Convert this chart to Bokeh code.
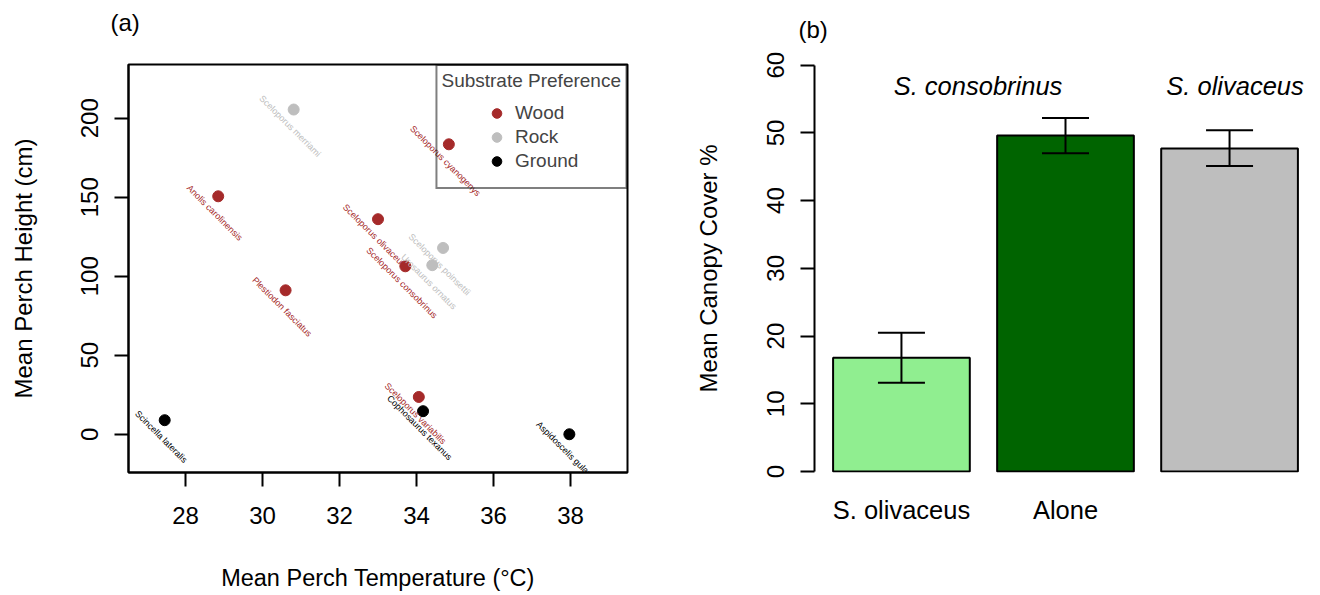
import math
from bokeh.plotting import figure
from bokeh.models import (ColumnDataSource, Range1d, FixedTicker, Legend, LegendItem,
                          Whisker, TeeHead)
from bokeh.layouts import row
from bokeh.embed import file_html
from bokeh.resources import INLINE
from bokeh.core.properties import value

FONT = "Liberation Sans"

# ---------------- data: panel (a) ----------------
species = ["Sceloporus merriami", "Sceloporus cyanogenys", "Anolis carolinensis",
           "Sceloporus olivaceus", "Sceloporus poinsettii", "Urosaurus ornatus",
           "Sceloporus consobrinus", "Plestiodon fasciatus", "Sceloporus variabilis",
           "Cophosaurus texanus", "Scincella lateralis", "Aspidoscelis gularis"]
perch_temp = [30.81, 34.84, 28.85, 33.00, 34.69, 34.41, 33.71, 30.60, 34.06, 34.17, 27.46, 37.97]
perch_height = [205.5, 183.5, 150.6, 136.1, 117.9, 107.0, 106.3, 91.1, 23.6, 14.6, 8.9, 0.0]
substrate = ["Rock", "Wood", "Wood", "Wood", "Rock", "Rock", "Wood", "Wood", "Wood",
             "Ground", "Ground", "Ground"]
substrate_levels = ["Wood", "Rock", "Ground"]
x_ticks_a = [28, 30, 32, 34, 36, 38]
y_ticks_a = [0, 50, 100, 150, 200]

# ---------------- data: panel (b) ----------------
bar_names = ["S. olivaceus", "Alone", ""]
canopy_mean = [16.8, 49.6, 47.7]
canopy_lower = [13.1, 47.0, 45.1]
canopy_upper = [20.5, 52.2, 50.4]
species_headers = ["S. consobrinus", "S. olivaceus"]
y_ticks_b = [0, 10, 20, 30, 40, 50, 60]

# ---------------- styles ----------------
sub_colors = {"Wood": "#A52A2A", "Rock": "#BEBEBE", "Ground": "#000000"}
bar_colors = ["#90EE90", "#006400", "#BEBEBE"]


def style_axis(ax, size="24px"):
    ax.major_label_text_font = FONT
    ax.major_label_text_font_size = size
    ax.major_label_text_color = "black"
    ax.axis_label_text_font = FONT
    ax.axis_label_text_font_size = size
    ax.axis_label_text_font_style = "normal"
    ax.axis_label_text_color = "black"
    ax.major_tick_in = 0
    ax.major_tick_out = 14
    ax.major_tick_line_width = 2
    ax.major_tick_line_color = "black"
    ax.minor_tick_line_color = None
    ax.axis_line_width = 2
    ax.axis_line_color = "black"


def style_title(p, text, offset, line_height):
    # a blank second line lifts the panel letter away from the frame
    p.title.text = text + "\n\u00a0"
    p.title.align = "left"
    p.title.vertical_align = "bottom"
    p.title.offset = offset
    p.title.standoff = 0
    p.title.text_line_height = line_height
    p.title.text_font = FONT
    p.title.text_font_size = "24px"
    p.title.text_font_style = "normal"
    p.title.text_color = "black"


# ================= panel (a) =================
p1 = figure(width=660, height=595, output_backend="svg", toolbar_location=None,
            x_range=Range1d(26.52, 39.48), y_range=Range1d(-24.2, 234.0),
            min_border_left=128, min_border_right=33, min_border_top=64, min_border_bottom=123)
p1.grid.visible = False
p1.outline_line_color = "black"
p1.outline_line_width = 2
p1.background_fill_color = "white"
p1.border_fill_color = "white"
style_title(p1, "(a)", -18, 1.05)

style_axis(p1.xaxis[0])
style_axis(p1.yaxis[0])
p1.xaxis.ticker = FixedTicker(ticks=x_ticks_a)
p1.yaxis.ticker = FixedTicker(ticks=y_ticks_a)
p1.xaxis.axis_label = "Mean Perch Temperature (°C)"
p1.xaxis.axis_label_text_font_size = "23.5px"
p1.yaxis.axis_label = "Mean Perch Height (cm)"
p1.yaxis.major_label_orientation = "vertical"
p1.xaxis.major_label_standoff = 20
p1.yaxis.major_label_standoff = 16
p1.xaxis.axis_label_standoff = 38
p1.yaxis.axis_label_standoff = 42

label_src = ColumnDataSource(dict(x=perch_temp, y=perch_height, name=species,
                                  color=[sub_colors[s] for s in substrate]))

legend_items = []
for lvl in substrate_levels:
    idx = [i for i, s in enumerate(substrate) if s == lvl]
    src = ColumnDataSource(dict(x=[perch_temp[i] for i in idx], y=[perch_height[i] for i in idx]))
    r = p1.scatter(x="x", y="y", source=src, size=11, marker="circle",
                   fill_color=sub_colors[lvl], line_color=sub_colors[lvl])
    legend_items.append(LegendItem(label=lvl, renderers=[r]))
ghost = p1.scatter(x=[], y=[], marker="circle", fill_alpha=0, line_alpha=0)

p1.text(x="x", y="y", text="name", source=label_src, angle=-math.pi / 4,
        text_align="center", text_baseline="top", y_offset=13,
        text_font=value(FONT), text_font_size="9px", text_color="color")

# legend frame + title (one blank item only reserves the space of the entries)
legend_frame = Legend(items=[LegendItem(label="\u00a0", renderers=[ghost])],
                      location="top_right", title="Substrate Preference",
                      margin=0, padding=4, border_line_color="black", border_line_width=2,
                      background_fill_alpha=0,
                      title_text_font=FONT, title_text_font_size="19px",
                      title_text_font_style="normal", title_standoff=19,
                      label_text_font=FONT, label_text_font_size="19px",
                      glyph_width=20, glyph_height=72, label_height=72, spacing=0)
p1.add_layout(legend_frame)

# visible legend entries, centred under the title as in the original
legend_entries = Legend(items=legend_items, location=(356, 299), margin=0, padding=0,
                        border_line_color=None, background_fill_alpha=0,
                        label_text_font=FONT, label_text_font_size="19px",
                        glyph_width=25, glyph_height=24, label_height=24,
                        label_standoff=6, spacing=0)
p1.add_layout(legend_entries)

# ================= panel (b) =================
bar_x = [round(0.2 + i * 1.2 + 0.5, 6) for i in range(len(canopy_mean))]
p2 = figure(width=660, height=595, output_backend="svg", toolbar_location=None,
            x_range=Range1d(0.064, 3.736), y_range=Range1d(-0.15, 60.1),
            min_border_left=154, min_border_right=4, min_border_top=64, min_border_bottom=123)
p2.grid.visible = False
p2.outline_line_color = None
p2.background_fill_color = "white"
p2.border_fill_color = "white"
style_title(p2, "(b)", -16, 0.8)

style_axis(p2.xaxis[0])
style_axis(p2.yaxis[0])
p2.yaxis.ticker = FixedTicker(ticks=y_ticks_b)
p2.yaxis.bounds = (0, 60)
p2.yaxis.major_label_orientation = "vertical"
p2.yaxis.major_label_standoff = 16
p2.yaxis.axis_label = "Mean Canopy Cover %"
p2.yaxis.axis_label_standoff = 43
p2.xaxis.ticker = FixedTicker(ticks=bar_x)
p2.xaxis.major_label_overrides = {bx: nm for bx, nm in zip(bar_x, bar_names)}
p2.xaxis.major_label_text_font_size = "25.5px"
p2.xaxis.axis_line_color = None
p2.xaxis.major_tick_line_color = None
p2.xaxis.major_tick_out = 0
p2.xaxis.major_label_standoff = 23

bar_src = ColumnDataSource(dict(x=bar_x, top=canopy_mean, lower=canopy_lower,
                                upper=canopy_upper, color=bar_colors))
p2.vbar(x="x", top="top", bottom=0, width=1.0, source=bar_src,
        fill_color="color", line_color="black", line_width=2)
p2.add_layout(Whisker(source=bar_src, base="x", upper="upper", lower="lower",
                      line_color="black", line_width=2, level="overlay",
                      upper_head=TeeHead(size=47, line_width=2, line_color="black"),
                      lower_head=TeeHead(size=47, line_width=2, line_color="black")))

header_x = [1.26, 3.14]
p2.text(x=header_x, y=[56.9] * len(header_x), text=species_headers,
        text_align="center", text_baseline="middle", text_font=value(FONT),
        text_font_size="25.5px", text_font_style="italic", text_color="black")

layout = row(p1, p2)
open("out.html", "w").write(file_html(layout, INLINE))
